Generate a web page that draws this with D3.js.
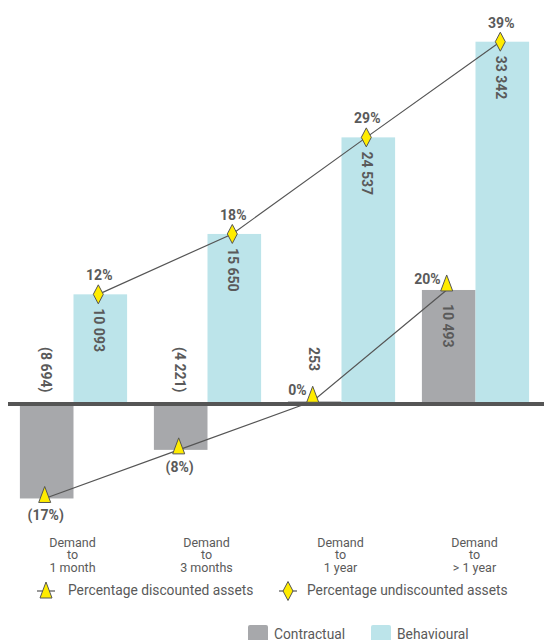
<!DOCTYPE html>
<html><head><meta charset="utf-8">
<script src="https://cdn.jsdelivr.net/npm/d3@7"></script>
<style>
html,body{margin:0;padding:0;background:#fff;}
svg{display:block;font-family:Roboto,"Noto Sans",sans-serif;}
</style></head>
<body><svg id="chart" width="544" height="640"></svg>
<script>
const categories = ["Demand\nto\n1 month", "Demand\nto\n3 months", "Demand\nto\n1 year", "Demand\nto\n> 1 year"];
const contractual = [-8694, -4221, 253, 10493];
const behavioural = [10093, 15650, 24537, 33342];
const pctDiscounted = [-17, -8, 0, 20];
const pctUndiscounted = [12, 18, 29, 39];
const seriesNames = ["Contractual", "Behavioural"];
const lineNames = ["Percentage discounted assets", "Percentage undiscounted assets"];

const colContr = "#a7a8ab", colBeh = "#bce4ea", colYellow = "#ffec00", colDark = "#555555", colText = "#5a5a5a";

const svg = d3.select("#chart");
const x0 = d3.scaleBand().domain(categories).range([6.5, 542.5]).paddingInner(0.2).paddingOuter(0.1);
const x1 = d3.scaleBand().domain(seriesNames).range([0, x0.bandwidth()]);
const y = d3.scaleLinear().domain([0, d3.max(behavioural)]).range([404, 41.7]);

const fmtNum = v => { const s = d3.format(",")(Math.abs(v)).replace(/,/g, " "); return v < 0 ? "(" + s + ")" : s; };
const fmtPct = v => v < 0 ? "(" + Math.abs(v) + "%)" : v + "%";

const rows = categories.map((c, i) => ({c, i, contr: contractual[i], beh: behavioural[i], pd: pctDiscounted[i], pu: pctUndiscounted[i]}));

// bars
const g = svg.append("g");
rows.forEach(r => {
  [["Contractual", r.contr, colContr], ["Behavioural", r.beh, colBeh]].forEach(([s, v, col]) => {
    g.append("rect")
      .attr("x", x0(r.c) + x1(s))
      .attr("width", x1.bandwidth())
      .attr("y", Math.min(y(v), y(0)))
      .attr("height", Math.abs(y(v) - y(0)))
      .attr("fill", col);
  });
});

// zero line
svg.append("line").attr("x1", 8).attr("x2", 544).attr("y1", y(0)).attr("y2", y(0))
  .attr("stroke", colDark).attr("stroke-width", 4);

// value labels (rotated)
rows.forEach(r => {
  [["Contractual", r.contr], ["Behavioural", r.beh]].forEach(([s, v]) => {
    const cx = x0(r.c) + x1(s) + x1.bandwidth() / 2 - 1;
    const start = v < 1000 ? y(0) - 57 : y(v) + 14;
    svg.append("text")
      .attr("transform", `translate(${cx},${start}) rotate(90)`)
      .attr("text-anchor", "start").attr("dominant-baseline", "central")
      .attr("font-size", 14).attr("font-weight", "bold").attr("fill", colText)
      .text(fmtNum(v));
  });
});

// lines
const triPath = "M0,-12 L6,4 L-6,4 Z";
const diaPath = "M0,-9.5 L5,0 L0,9.5 L-5,0 Z";
const ptD = rows.map(r => ({x: x0(r.c) + x1("Contractual") + x1.bandwidth() / 2 - 2, y: y(r.contr), p: r.pd}));
const ptU = rows.map(r => ({x: x0(r.c) + x1("Behavioural") + x1.bandwidth() / 2 - 2, y: y(r.beh), p: r.pu}));
const line = d3.line().x(d => d.x).y(d => d.y);
svg.append("path").attr("d", line(ptD)).attr("fill", "none").attr("stroke", colDark).attr("stroke-width", 1.2);
svg.append("path").attr("d", line(ptU)).attr("fill", "none").attr("stroke", colDark).attr("stroke-width", 1.2);

ptD.forEach(d => {
  svg.append("path").attr("d", triPath).attr("transform", `translate(${d.x},${d.p >= 0 ? d.y - 3 : d.y})`)
    .attr("fill", colYellow).attr("stroke", colDark).attr("stroke-width", 1);
  const t = svg.append("text").attr("font-size", 14).attr("font-weight", "bold").attr("fill", colText).text(fmtPct(d.p));
  if (d.p < 0) t.attr("x", d.x + 1).attr("y", d.y + 22).attr("text-anchor", "middle");
  else t.attr("x", d.x - 6).attr("y", d.y - 6).attr("text-anchor", "end");
});
ptU.forEach(d => {
  svg.append("path").attr("d", diaPath).attr("transform", `translate(${d.x},${d.y})`)
    .attr("fill", colYellow).attr("stroke", colDark).attr("stroke-width", 1);
  svg.append("text").attr("x", d.x + 1).attr("y", d.y - 14).attr("text-anchor", "middle")
    .attr("font-size", 14).attr("font-weight", "bold").attr("fill", colText).text(fmtPct(d.p));
});

// category labels
rows.forEach(r => {
  const t = svg.append("text").attr("text-anchor", "middle").attr("font-size", 12.5).attr("fill", colText);
  r.c.split("\n").forEach((ln, k) => {
    t.append("tspan").attr("x", x0(r.c) + x0.bandwidth() / 2 - 1).attr("y", 546.5 + k * 12.5).text(ln);
  });
});

// legend row 1
const lg = [[46, 68, triPath, 3, lineNames[0]], [288, 307, diaPath, 0, lineNames[1]]];
lg.forEach(([cx, tx, p, dy, name]) => {
  svg.append("line").attr("x1", cx - 9).attr("x2", cx + 9).attr("y1", 591).attr("y2", 591).attr("stroke", colDark).attr("stroke-width", 1.2);
  svg.append("path").attr("d", p).attr("transform", `translate(${cx},${591 + dy})`).attr("fill", colYellow).attr("stroke", colDark).attr("stroke-width", 1);
  svg.append("text").attr("x", tx).attr("y", 595).attr("font-size", 13.8).attr("fill", colText).text(name);
});

// legend row 2
[[248, 274, colContr, seriesNames[0]], [371, 397, colBeh, seriesNames[1]]].forEach(([sx, tx, col, name]) => {
  svg.append("rect").attr("x", sx).attr("y", 625).attr("width", 20).attr("height", 20).attr("rx", 2).attr("fill", col);
  svg.append("text").attr("x", tx).attr("y", 639).attr("font-size", 13.8).attr("fill", colText).text(name);
});
</script></body></html>
